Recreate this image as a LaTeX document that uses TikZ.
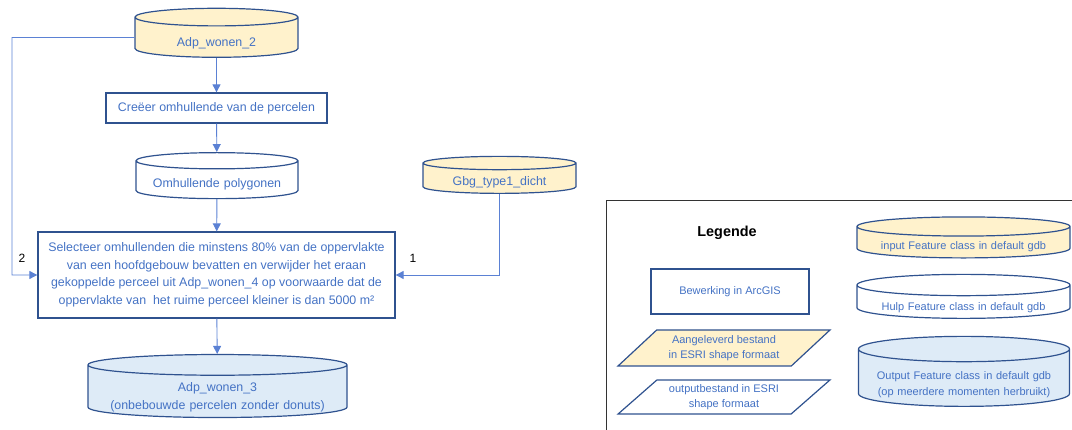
\documentclass[tikz,border=0pt]{standalone}
\usepackage{fontspec}
\setmainfont{Liberation Sans}
\usetikzlibrary{arrows.meta,shapes.geometric}

\definecolor{randblauw}{HTML}{2F528F}
\definecolor{tekstblauw}{HTML}{4472C4}
\definecolor{lijnblauw}{HTML}{5B81D4}
\definecolor{geel}{HTML}{FFF2CC}
\definecolor{lichtblauw}{HTML}{DEEBF7}

% tekst in een cilinder iets onder het midden zetten
\newcommand{\omlaag}[2]{\raisebox{-#1}[\height][\depth]{#2}}

\tikzset{
  tekst/.style={text=tekstblauw, align=center, font=\fontsize{12.4}{17.5}\selectfont},
  bewerking/.style={tekst, draw=randblauw, line width=1.3pt, inner sep=2pt},
  bestand/.style={tekst, cylinder, shape border rotate=90,
    draw=randblauw, line width=1.2pt, inner sep=0pt},
  invoer/.style={bestand, fill=geel},
  hulp/.style={bestand, fill=white},
  uitvoer/.style={bestand, fill=lichtblauw},
  klein/.style={font=\fontsize{11}{15.5}\selectfont},
  schuin/.style={tekst, trapezium, trapezium left angle=39, trapezium right angle=141,
    trapezium stretches=true, draw=randblauw, line width=1.2pt, inner sep=0pt},
  pijl/.style={draw=lijnblauw, line width=0.9pt, -{Triangle[length=8pt,width=8pt]}},
  nummer/.style={font=\fontsize{12}{14}\selectfont}
}

\begin{document}
\begin{tikzpicture}[x=1pt,y=-1pt]
\useasboundingbox (0,0) rectangle (1072,430);

% stroomschema
\node[invoer, aspect=0.108, text width=163pt, minimum height=49pt] (adp2) at (216.5,37.5)
  {\omlaag{5.5pt}{Adp\_wonen\_2}};
\node[bewerking, minimum width=221pt, minimum height=30pt] (omhul) at (216.5,108) {Creëer omhullende van de percelen};
\node[hulp, aspect=0.1, text width=162pt, minimum height=46pt] (poly) at (217,180)
  {\omlaag{4pt}{Omhullende polygonen}};
\node[invoer, aspect=0.087, text width=153pt, minimum height=37pt] (gbg) at (499.5,178.5)
  {\omlaag{3.5pt}{Gbg\_type1\_dicht}};
\node[bewerking, minimum width=357pt, minimum height=86pt] (selectie) at (216.5,275)
  {Selecteer omhullenden die minstens 80\% van de oppervlakte\\
   van een hoofdgebouw bevatten en verwijder het eraan\\
   gekoppelde perceel uit Adp\_wonen\_4 op voorwaarde dat de\\
   oppervlakte van \ het ruime perceel kleiner is dan 5000 m²};
\node[uitvoer, aspect=0.08, text width=259pt, minimum height=63pt] (adp3) at (217.5,391.5)
  {\omlaag{6pt}{Adp\_wonen\_3}\\\omlaag{6pt}{(onbebouwde percelen zonder donuts)}};

\coordinate (links) at (12,37.5);
\draw[pijl] (adp2) -- (omhul);
\draw[pijl] (omhul) -- (poly);
\draw[pijl] (poly) -- (selectie);
\draw[pijl] (selectie) -- (adp3);
\draw[pijl] (adp2.west) -- (links) |- (selectie.west);
\draw[pijl] (gbg.south) |- (selectie.east);
\node[nummer] (n2) at (22,258) {2};
\node[nummer] (n1) at (413,258) {1};

% legende
\draw[draw=black!80, line width=0.8pt] (606,200) rectangle (1090,445);
\node[font=\fontsize{14.4}{16}\selectfont\bfseries] (legende) at (727,233) {Legende};
\node[bewerking, klein, minimum width=158pt, minimum height=45pt] (lbew) at (730,291.5) {Bewerking in ArcGIS};
\node[schuin, klein, fill=geel, minimum width=212pt, minimum height=36pt] (laan) at (724,348)
  {Aangeleverd bestand\\in ESRI shape formaat};
\node[schuin, klein, fill=white, minimum width=212pt, minimum height=34pt] (lout) at (724,397)
  {outputbestand in ESRI\\shape formaat};
\node[invoer, klein, aspect=0.09, text width=213pt, minimum height=41pt] (lin) at (963.5,242.5)
  {\omlaag{4.5pt}{input Feature class in default gdb}};
\node[hulp, klein, aspect=0.1, text width=213pt, minimum height=44pt] (lhulp) at (963.5,302)
  {\omlaag{5.5pt}{Hulp Feature class in default gdb}};
\node[uitvoer, klein, aspect=0.12, text width=211pt, minimum height=70pt] (luit) at (964,378)
  {\omlaag{6.5pt}{Output Feature class in default gdb}\\\omlaag{6.5pt}{(op meerdere momenten herbruikt)}};
\end{tikzpicture}
\end{document}
